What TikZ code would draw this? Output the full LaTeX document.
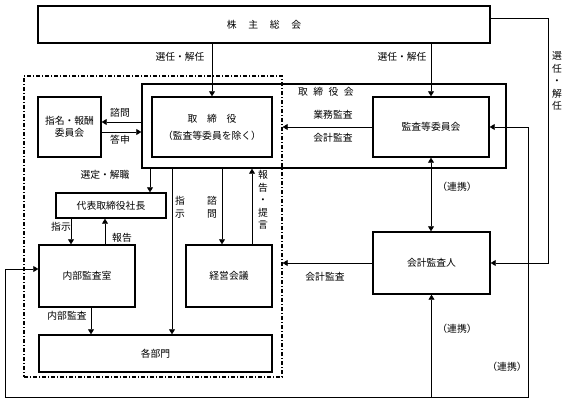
\documentclass[tikz,border=0pt]{standalone}
\usepackage{fontspec}
\setmainfont{Noto Sans CJK JP}
\usetikzlibrary{arrows.meta, positioning, calc}

\begin{document}
\begin{tikzpicture}[
                                        x=1pt, y=-1pt,
                                        >={Triangle[width=6pt,length=5pt]},
                                        every node/.style={font=\fontsize{9.8}{12}\selectfont, inner sep=0pt},
                                        box/.style={draw, line width=1.4pt, minimum width=#1, align=center},
                                        conn/.style={line width=0.7pt},
                                        frame/.style={draw, line width=1.3pt, dash pattern=on 4pt off 2pt on 1pt off 2pt},
                                        vlabel/.style={align=center, font=\fontsize{9.8}{12.6}\selectfont}
                                ]
                                \useasboundingbox (0,0) rectangle (567,401);
                                \node [frame, minimum width=258, minimum height=301] (ctrl) at (153,226.5) {};
                                \node [box=452, minimum height=37] (soukai) at (264,24.5) {株\hspace{1.2em}主\hspace{1.2em}総\hspace{1.2em}会};
                                \node [box=364, minimum height=84] (torikai) at (324,126) {};
                                \node [anchor=west] (torikailabel) at (298,92) {取\hspace{0.55em}締\hspace{0.55em}役\hspace{0.55em}会};
                                \node [box=120, minimum height=60] (torishimari) at (212,127) {取\hspace{1em}締\hspace{1em}役\\[5pt]（監査等委員を除く）};
                                \node [box=116, minimum height=60] (kansa) at (431,127) {監査等委員会};
                                \node [box=63, minimum height=60] (shimei) at (69.5,127) {指名・報酬\\委員会};
                                \node [box=110, minimum height=25] (shacho) at (111,205.5) {代表取締役社長};
                                \node [box=96, minimum height=62] (naibu) at (87,276) {内部監査室};
                                \node [box=86, minimum height=62] (keiei) at (229,276) {経営会議};
                                \node [box=233, minimum height=37] (kakubu) at (155.5,353.5) {各部門};
                                \node [box=117, minimum height=62] (kaikei) at (431.5,263) {会計監査人};

                                \coordinate (rt) at (548,18);
                                \coordinate (bl) at (5,397);
                                \coordinate (br) at (528,397);

                                \draw [conn, ->] (soukai.south -| torishimari.north) -- (torishimari.north);
                                \draw [conn, ->] (soukai.south -| kansa.north) -- (kansa.north);
                                \draw [conn, ->] ([yshift=6.5pt]soukai.east) -- (rt) |- (kaikei.east);
                                \draw [conn, ->] ([yshift=5pt]shimei.east -| torikai.west) -- ([yshift=5pt]shimei.east);
                                \draw [conn, ->] ([yshift=-5pt]shimei.east) -- ([yshift=-5pt]shimei.east -| torikai.west);
                                \draw [conn, ->] (kansa.west) -- (kansa.west -| ctrl.east);
                                \draw [conn, ->] ([xshift=39pt]shacho.north |- torikai.south) -- ([xshift=39pt]shacho.north);
                                \draw [conn, ->] ([xshift=-16pt]naibu.north |- shacho.south) -- ([xshift=-16pt]naibu.north);
                                \draw [conn, ->] ([xshift=18pt]naibu.north) -- ([xshift=18pt]naibu.north |- shacho.south);
                                \draw [conn, ->] ([xshift=4pt]naibu.south) -- ([xshift=4pt]naibu.south |- kakubu.north);
                                \draw [conn, ->] ([xshift=16.5pt]kakubu.north |- torikai.south) -- ([xshift=16.5pt]kakubu.north);
                                \draw [conn, ->] ([xshift=-7pt]keiei.north |- torikai.south) -- ([xshift=-7pt]keiei.north);
                                \draw [conn, ->] ([xshift=23pt]keiei.north) -- ([xshift=23pt]keiei.north |- torikai.south);
                                \draw [conn, ->] (kaikei.west) -- (kaikei.west -| ctrl.east);
                                \draw [conn, <->] (kansa.south) -- (kansa.south |- kaikei.north);
                                \draw [conn, ->] (bl) -- (br) |- (kansa.east);
                                \draw [conn, ->] (bl) |- ([yshift=7pt]naibu.west);
                                \draw [conn, ->] (kaikei.south |- bl) -- (kaikei.south);

                                \node (l1) at (180,57) {選任・解任};
                                \node (l2) at (402,57) {選任・解任};
                                \node [vlabel] (l3) at (557,81) {選\\任\\・\\解\\任};
                                \node (l4) at (120,113) {諮問};
                                \node (l5) at (120,140) {答申};
                                \node (l6) at (333,115) {業務監査};
                                \node (l7) at (333,138) {会計監査};
                                \node (l8) at (105,175) {選定・解職};
                                \node (l9) at (61,227) {指示};
                                \node (l10) at (122,238) {報告};
                                \node (l11) at (67,316) {内部監査};
                                \node [vlabel] (l12) at (180,207) {指\\示};
                                \node [vlabel] (l13) at (212,207) {諮\\問};
                                \node [vlabel] (l14) at (263,200) {報\\告\\・\\提\\言};
                                \node (l15) at (325,277) {会計監査};
                                \node (l16) at (457,187) {（連携）};
                                \node (l17) at (457,329) {（連携）};
                                \node (l18) at (507,367) {（連携）};
                        \end{tikzpicture}
\end{document}
